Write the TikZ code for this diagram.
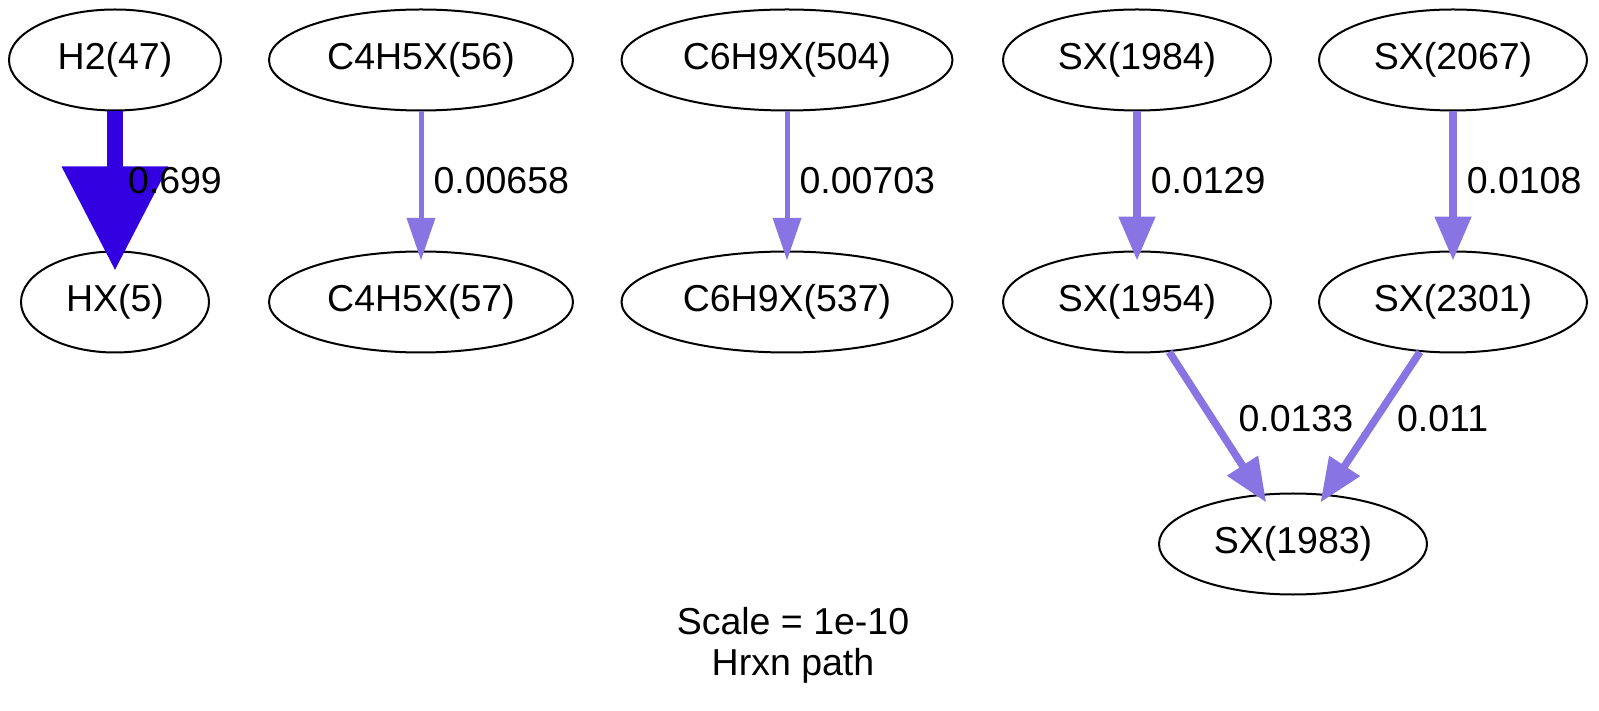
\documentclass[tikz,border=0pt]{standalone}
\usepackage{fontspec}
\setmainfont{Liberation Sans}
\usetikzlibrary{shapes.geometric,arrows.meta}
\definecolor{fluxdark}{RGB}{51,0,226}
\definecolor{fluxlight}{RGB}{137,116,228}
\begin{document}
\begin{tikzpicture}[x=0.4pt,y=-0.4pt,
		species/.style={draw,ellipse,line width=0.8pt,inner sep=0pt,minimum height=40.4pt,font=\fontsize{15}{18}\selectfont},
		flux/.style={right,inner sep=4pt,text=black,font=\fontsize{15}{18}\selectfont},
		thinflux/.style={fluxlight,line width=2pt,shorten >=-4pt,-{Triangle[length=17pt,width=11pt]}},
		midflux/.style={fluxlight,line width=3pt,shorten >=-4pt,-{Triangle[length=17.5pt,width=14pt]}},
		bigflux/.style={fluxdark,line width=6.4pt,shorten >=-8pt,-{Triangle[length=41.6pt,width=41pt]}}]
			\useasboundingbox (0,0) rectangle (1599,711);
			\node[species,minimum width=84.8pt](h2) at (115,60){H2(47)};
			\node[species,minimum width=75.2pt](hx) at (115,302){HX(5)};
			\node[species,minimum width=121.6pt](c4a) at (421,60){C4H5X(56)};
			\node[species,minimum width=121.6pt](c4b) at (421,302){C4H5X(57)};
			\node[species,minimum width=132.4pt](c6a) at (787,60){C6H9X(504)};
			\node[species,minimum width=132.4pt](c6b) at (787,302){C6H9X(537)};
			\node[species,minimum width=107.2pt](sx1984) at (1137,60){SX(1984)};
			\node[species,minimum width=107.2pt](sx2067) at (1453,60){SX(2067)};
			\node[species,minimum width=107.2pt](sx1954) at (1137,302){SX(1954)};
			\node[species,minimum width=107.2pt](sx2301) at (1453,302){SX(2301)};
			\node[species,minimum width=107.2pt](sx1983) at (1293,544){SX(1983)};
			\draw[bigflux](h2)--(hx)node[flux,pos=0.5,xshift=-2pt]{0.699};
			\draw[thinflux](c4a)--(c4b)node[flux,pos=0.5]{0.00658};
			\draw[thinflux](c6a)--(c6b)node[flux,pos=0.5]{0.00703};
			\draw[midflux](sx1984)--(sx1954)node[flux,pos=0.5]{0.0129};
			\draw[midflux](sx2067)--(sx2301)node[flux,pos=0.5]{0.0108};
			\draw[midflux](sx1954)--(sx1983)node[flux,pos=0.47,xshift=5pt]{0.0133};
			\draw[midflux](sx2301)--(sx1983)node[flux,pos=0.47,xshift=3pt]{0.011};
			\node[align=center,font=\fontsize{15}{16.5}\selectfont](caption) at (793,645){Scale = 1e-10\\Hrxn path};
		\end{tikzpicture}
\end{document}
